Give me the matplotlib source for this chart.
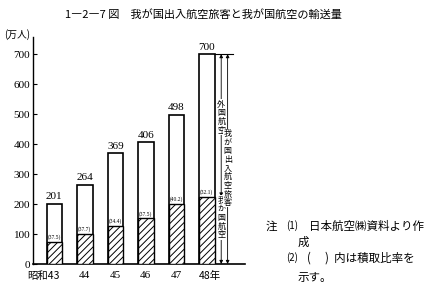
import matplotlib
matplotlib.use("Agg")
import matplotlib.pyplot as plt

plt.rcParams['font.family'] = ['Noto Sans CJK JP', 'DejaVu Sans']
plt.rcParams['hatch.linewidth'] = 0.7

years = ['43', '44', '45', '46', '47', '48']
totals = [201, 264, 369, 406, 498, 700]
domestic = [75, 100, 127, 152, 200, 225]
shares = ['37.5', '37.7', '34.4', '37.5', '40.2', '32.1']
yticks = [0, 100, 200, 300, 400, 500, 600, 700]

fig = plt.figure(figsize=(4.25, 2.89), dpi=100)
W, H = 425, 289
ax = fig.add_axes([33 / W, 25 / H, (245 - 33) / W, (264 - 37) / H])

x = list(range(len(years)))
bw = 0.51
ax.bar(x, totals, width=bw, color='white', edgecolor='black', linewidth=1.2, zorder=2)
ax.bar(x, domestic, width=bw, color='white', edgecolor='black', linewidth=1.0,
       hatch='/////', zorder=3)

numfont = ['Liberation Serif', 'DejaVu Serif']
for xi, t, d, s in zip(x, totals, domestic, shares):
    ax.text(xi, t + 8, str(t), ha='center', va='bottom', fontsize=8, family=numfont)
    ax.text(xi, d + 6, '(' + s + ')', ha='center', va='bottom', fontsize=4,
            family=numfont, zorder=4)

ax.set_xlim(-0.70, 6.25)
ax.set_ylim(0, 757)
ax.set_yticks(yticks)
ax.set_yticklabels([str(v) for v in yticks], family=numfont, fontsize=8)
ax.tick_params(axis='y', direction='in', length=3, width=0.8, pad=2)
ax.set_xticks([])
for sp in ['top', 'right']:
    ax.spines[sp].set_visible(False)
ax.spines['left'].set_linewidth(1.0)
ax.spines['bottom'].set_linewidth(1.2)

# x labels
ly = -22
for xi, yr in zip(x, years):
    if xi == 0:
        ax.text(xi + 0.17, ly, '昭和' + yr, ha='right', va='top', fontsize=7.5,
                family=['Noto Sans CJK JP'])
    elif xi == len(years) - 1:
        ax.text(xi - 0.25, ly, yr + '年', ha='left', va='top', fontsize=7.5,
                family=['Noto Sans CJK JP'])
    else:
        ax.text(xi, ly, yr, ha='center', va='top', fontsize=8, family=numfont)

# unit label
fig.text(4 / W, 1 - 35 / H, '(万人)', ha='left', va='center', fontsize=7)

# arrows beside last bar
xi_in = 5.47
xi_out = 5.68
ax.plot([5.26, 5.85], [totals[-1], totals[-1]], color='black', lw=0.8, clip_on=False)
ax.plot([5.38, 5.56], [domestic[-1], domestic[-1]], color='black', lw=0.8, clip_on=False)
arrow = dict(arrowstyle='<|-|>', color='black', lw=0.6, mutation_scale=5,
             shrinkA=0, shrinkB=0)
ax.annotate('', xy=(xi_in, totals[-1]), xytext=(xi_in, domestic[-1]),
            arrowprops=arrow, annotation_clip=False)
ax.annotate('', xy=(xi_in, domestic[-1]), xytext=(xi_in, 0),
            arrowprops=arrow, annotation_clip=False)
ax.annotate('', xy=(xi_out, totals[-1]), xytext=(xi_out, 0),
            arrowprops=arrow, annotation_clip=False)

def vtext(xp, yp, s, fs=5.8):
    ax.text(xp, yp, '\n'.join(s), ha='center', va='center', fontsize=fs,
            linespacing=0.95, clip_on=False,
            bbox=dict(facecolor='white', edgecolor='none', pad=0.2), zorder=5)

vtext(xi_in, 490, '外国航空')
vtext(xi_in, 155, '我が国航空')
vtext(xi_out, 320, '我が国出入航空旅客')

# title
fig.text(203 / W, 1 - 14 / H, '1―2―7 図　我が国出入航空旅客と我が国航空の輸送量',
         ha='center', va='center', fontsize=8.0)

# notes
fs_n = 8.3
fig.text(266 / W, 1 - 226 / H, '注', ha='left', va='center', fontsize=fs_n)
fig.text(286 / W, 1 - 226 / H, '(1)', ha='left', va='center', fontsize=7)
fig.text(309 / W, 1 - 226 / H, '日本航空㈱資料より作', ha='left', va='center', fontsize=fs_n)
fig.text(298 / W, 1 - 242 / H, '成', ha='left', va='center', fontsize=fs_n)
fig.text(286 / W, 1 - 258 / H, '(2)', ha='left', va='center', fontsize=7)
fig.text(307 / W, 1 - 258 / H, '(　 )  内は積取比率を', ha='left', va='center', fontsize=fs_n)
fig.text(298 / W, 1 - 277 / H, '示す。', ha='left', va='center', fontsize=fs_n)

fig.savefig('out.png', dpi=100)
